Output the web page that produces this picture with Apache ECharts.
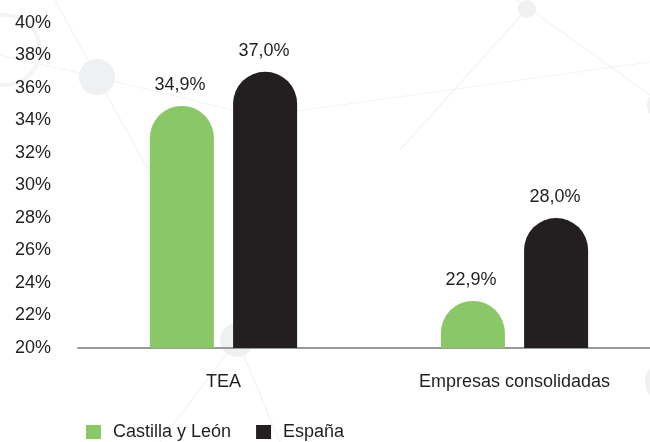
<!DOCTYPE html>
<html>
<head>
<meta charset="utf-8">
<script src="https://cdn.jsdelivr.net/npm/echarts@6/dist/echarts.min.js"></script>
<style>html,body{margin:0;padding:0;background:#fff;overflow:hidden;width:650px;height:442px;}#c{width:660px;height:442px;}</style>
</head>
<body>
<div id="c"></div>
<script>
var categories = ['TEA', 'Empresas consolidadas'];
var seriesNames = ['Castilla y León', 'España'];
var castillaValues = [34.9, 22.9];
var espanaValues = [37.0, 28.0];
var yTicks = [20, 22, 24, 26, 28, 30, 32, 34, 36, 38, 40];

var GREEN = '#8AC766';
var BLACK = '#231F20';
var TEXT = '#231F20';
var FONT = '"Liberation Sans", Arial, sans-serif';

var chart = echarts.init(document.getElementById('c'), null, {renderer: 'canvas'});

function fmt(v) { return v.toFixed(1).replace('.', ',') + '%'; }

var deco = '#eef0f2';
var decoLine = '#f3f3f5';
function dl(x1, y1, x2, y2) {
  return {type: 'line', z: -10, silent: true, shape: {x1: x1, y1: y1, x2: x2, y2: y2}, style: {stroke: decoLine, lineWidth: 1.2}};
}
function dc(cx, cy, r) {
  return {type: 'circle', z: -10, silent: true, shape: {cx: cx, cy: cy, r: r}, style: {fill: deco}};
}
function dr(cx, cy, r) {
  return {type: 'circle', z: -10, silent: true, shape: {cx: cx, cy: cy, r: r}, style: {fill: 'none', stroke: '#f4f4f6', lineWidth: 4}};
}
var option = {
  backgroundColor: '#ffffff',
  animation: false,
  graphic: [
    dl(55, 0, 97, 77), dl(97, 77, 165, 200),
    dl(0, 55, 97, 77), dl(97, 77, 240, 112),
    dl(290, 112, 650, 62),
    dl(510, -5, 650, 95),
    dl(527, 9, 400, 150),
    dl(237, 340, 160, 442), dl(237, 340, 280, 442),
    dr(5, 50, 35), dr(260, 118, 22),
    dc(97, 77, 18),
    dc(527, 9, 9),
    dc(662, 105, 15),
    dc(237, 340, 17),
    dc(665, 382, 20)
  ],
  grid: {left: 78, top: 23, width: 582, bottom: 94, containLabel: false},
  legend: {
    data: seriesNames,
    left: 86,
    top: 423,
    padding: 0,
    itemWidth: 15,
    itemHeight: 14,
    itemGap: 25,
    icon: 'rect',
    textStyle: {fontFamily: FONT, fontSize: 18, color: TEXT, padding: [0, 0, 0, 7]}
  },
  xAxis: {
    type: 'category',
    data: categories,
    axisTick: {show: false},
    axisLine: {lineStyle: {color: '#999999', width: 2}},
    axisLabel: {fontFamily: FONT, fontSize: 18, color: TEXT, margin: 25}
  },
  yAxis: {
    type: 'value',
    min: 20,
    max: 40,
    interval: 2,
    axisLine: {show: false},
    axisTick: {show: false},
    splitLine: {show: false},
    axisLabel: {fontFamily: FONT, fontSize: 18, color: TEXT, margin: 27,
      formatter: function (v) { return yTicks.indexOf(v) >= 0 ? v + '%' : ''; }}
  },
  series: [
    {
      name: seriesNames[0], type: 'bar', data: castillaValues,
      barWidth: 64, barGap: '30%',
      itemStyle: {color: GREEN, borderRadius: [32, 32, 0, 0]},
      label: {show: true, position: 'top', distance: 12, offset: [-2, 0], fontFamily: FONT, fontSize: 18, color: TEXT,
        formatter: function (p) { return fmt(p.value); }}
    },
    {
      name: seriesNames[1], type: 'bar', data: espanaValues,
      barWidth: 64,
      itemStyle: {color: BLACK, borderRadius: [32, 32, 0, 0]},
      label: {show: true, position: 'top', distance: 12, offset: [-1, 0], fontFamily: FONT, fontSize: 18, color: TEXT,
        formatter: function (p) { return fmt(p.value); }}
    }
  ]
};
chart.setOption(option);
</script>
</body>
</html>
